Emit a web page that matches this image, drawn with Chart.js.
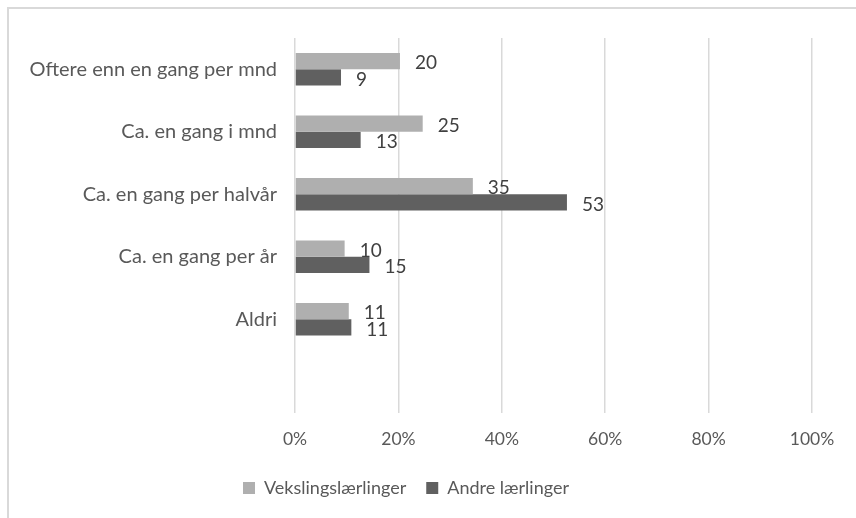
<!DOCTYPE html>
<html>
<head>
<meta charset="utf-8">
<script src="https://cdn.jsdelivr.net/npm/chart.js@4/dist/chart.umd.min.js"></script>
<style>
  html, body { margin: 0; padding: 0; background: #fff; }
  #wrap { position: relative; width: 856px; height: 518px; }
  #frame { position: absolute; left: 7px; top: 7px; right: -10px; bottom: -10px;
           border-top: 2px solid #d9d9d9; border-left: 2px solid #d9d9d9; }
  canvas { position: absolute; left: 0; top: 0; }
</style>
</head>
<body>
<div id="wrap">
  <div id="frame"></div>
  <canvas id="chart" width="856" height="518"></canvas>
</div>
<script>
// Kategorier (siste rad er tom i originalen)
const categories = ['Oftere enn en gang per mnd', 'Ca. en gang i mnd', 'Ca. en gang per halvår', 'Ca. en gang per år', 'Aldri', ''];
// Stolpelengder i prosent
const vekslingValues = [20.3, 24.7, 34.4, 9.6, 10.4, null];
const andreValues = [8.9, 12.7, 52.6, 14.4, 10.9, null];
// Tallene som står ved stolpene
const vekslingLabels = ['20', '25', '35', '10', '11', ''];
const andreLabels = ['9', '13', '53', '15', '11', ''];
const xTicks = [0, 20, 40, 60, 80, 100];

const FONT = 'Lato, "Noto Sans", sans-serif';
const TEXT = '#595959';

// Dataetiketter ved enden av stolpene
const barLabels = {
    id: 'barLabels',
    afterDatasetsDraw(chart) {
        const ctx = chart.ctx;
        ctx.save();
        ctx.font = '19px ' + FONT;
        ctx.fillStyle = '#404040';
        ctx.textAlign = 'left';
        ctx.textBaseline = 'middle';
        chart.data.datasets.forEach((ds, i) => {
            const meta = chart.getDatasetMeta(i);
            meta.data.forEach((bar, j) => {
                const txt = ds.valueLabels[j];
                if (!txt) return;
                ctx.fillText(txt, bar.x + 15, bar.y + 2);
            });
        });
        ctx.restore();
    }
};

new Chart(document.getElementById('chart').getContext('2d'), {
    type: 'bar',
    data: {
        labels: categories,
        datasets: [{
            label: 'Vekslingslærlinger',
            data: vekslingValues,
            valueLabels: vekslingLabels,
            backgroundColor: '#afafaf',
            borderWidth: 0
        }, {
            label: 'Andre lærlinger',
            data: andreValues,
            valueLabels: andreLabels,
            backgroundColor: '#606060',
            borderWidth: 0
        }]
    },
    options: {
        indexAxis: 'y',
        responsive: false,
        animation: false,
        categoryPercentage: 0.52,
        barPercentage: 1.0,
        layout: { padding: { left: 0, right: 44, top: 38, bottom: 11 } },
        plugins: {
            legend: {
                position: 'bottom',
                labels: {
                    boxWidth: 12,
                    boxHeight: 12,
                    padding: 20,
                    color: TEXT,
                    font: { family: FONT, size: 18 }
                }
            },
            tooltip: { enabled: false }
        },
        scales: {
            x: {
                min: 0,
                max: 100,
                afterBuildTicks: (scale) => { scale.ticks = xTicks.map(v => ({ value: v })); },
                afterFit: (scale) => { scale.height = 46; },
                grid: { color: '#d9d9d9', lineWidth: 1.5, drawTicks: false },
                border: { display: false },
                ticks: {
                    padding: 16,
                    color: TEXT,
                    font: { family: FONT, size: 17.5 },
                    callback: (v) => v + '%'
                }
            },
            y: {
                afterFit: (scale) => { scale.width = 295; },
                grid: { display: false },
                border: { display: false },
                ticks: {
                    padding: 10,
                    color: TEXT,
                    font: { family: FONT, size: 20 }
                }
            }
        }
    },
    plugins: [barLabels]
});
</script>
</body>
</html>
